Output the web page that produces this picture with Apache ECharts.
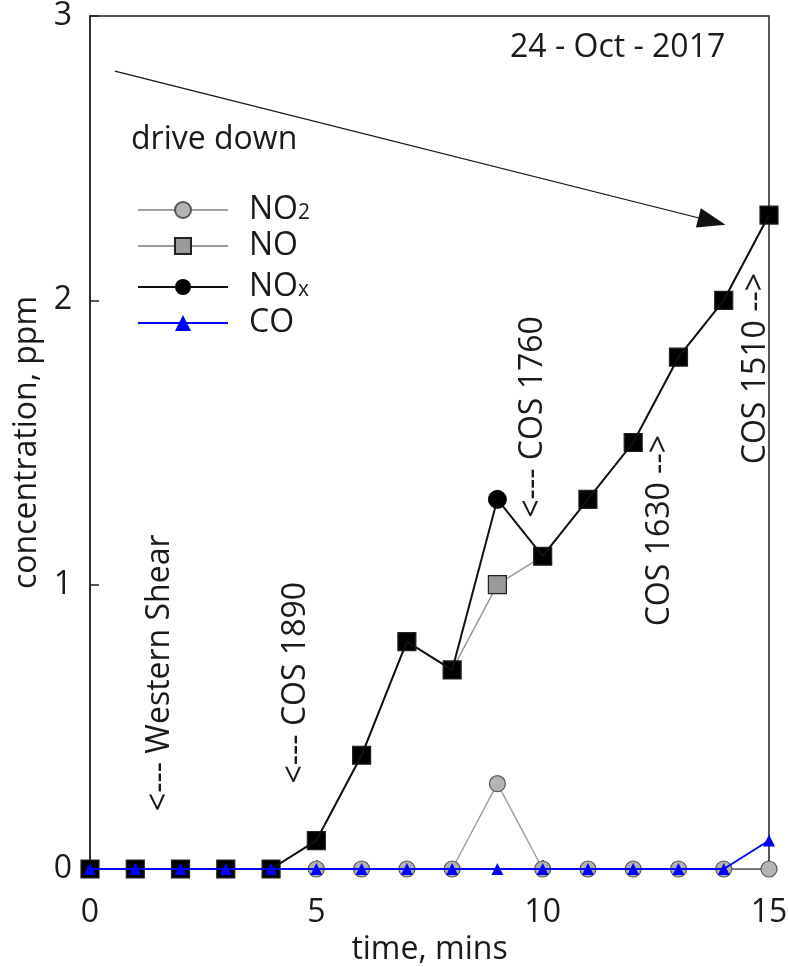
<!DOCTYPE html>
<html>
<head>
<meta charset="utf-8">
<script src="https://cdn.jsdelivr.net/npm/echarts@6/dist/echarts.min.js"></script>
<style>html,body{margin:0;padding:0;background:#fff}#c{width:788px;height:967px}</style>
</head>
<body>
<div id="c"></div>
<script>
// ---- data ----
const time = [0,1,2,3,4,5,6,7,8,9,10,11,12,13,14,15];
const NO2  = [0,0,0,0,0,0,0,0,0,0.3,0,0,0,0,0,0];
const NO   = [0,0,0,0,0,0.1,0.4,0.8,0.7,1.0,1.1,1.3,1.5,1.8,2.0,2.3];
const NOx  = [0,0,0,0,0,0.1,0.4,0.8,0.7,1.3,1.1,1.3,1.5,1.8,2.0,2.3];
const CO   = [0,0,0,0,0,0,0,0,0,0,0,0,0,0,0,0.1];
const xTicks = [0,5,10,15];
const yTicks = [0,1,2,3];
const annotations = [
  {text:'<--- Western Shear', x:1.55, y:0.69},
  {text:'<--- COS 1890', x:4.55, y:0.655},
  {text:'<--- COS 1760', x:9.79, y:1.59},
  {text:'COS 1630 -->', x:12.59, y:1.19},
  {text:'COS 1510 -->', x:14.72, y:1.76}
];
const arrowStart = [0.55, 2.806];
const arrowEnd = [13.74, 2.278];

const FONT = "'Open Sans', 'Noto Sans', sans-serif";
const TXT = '#1a1a1a';
const FS = 32;
const pairs = a => time.map((t,i)=>[t,a[i]]);
const noData = time.map((t,i)=>({value:[t,NO[i]], itemStyle:{color: NO[i]===NOx[i] ? '#000' : '#9a9a9a'}}));
const noxData = time.map((t,i)=>({value:[t,NOx[i]], symbol: NO[i]===NOx[i] ? 'none' : 'circle'}));

const chart = echarts.init(document.getElementById('c'), null, {renderer:'canvas'});
const option = {
  animation:false,
  backgroundColor:'#fff',
  textStyle:{fontFamily:FONT},
  grid:{left:90, right:19, top:16, bottom:98, containLabel:false, outerBoundsMode:'none',
        show:true, borderColor:'#222', borderWidth:1.5, backgroundColor:'transparent'},
  xAxis:{
    type:'value', min:0, max:15, interval:5,
    name:'time, mins', nameLocation:'middle', nameGap:74,
    nameTextStyle:{fontSize:FS, color:TXT, fontFamily:FONT, verticalAlign:'middle'},
    axisLine:{show:true, lineStyle:{color:'#222', width:1.5}},
    axisTick:{show:true, inside:true, length:9, lineStyle:{color:'#222', width:1.5}},
    axisLabel:{fontSize:FS, color:TXT, margin:28, fontFamily:FONT},
    splitLine:{show:false}
  },
  yAxis:{
    type:'value', min:0, max:3, interval:1,
    name:'concentration, ppm', nameLocation:'middle', nameGap:62,
    nameTextStyle:{fontSize:FS, color:TXT, fontFamily:FONT, verticalAlign:'middle'},
    axisLine:{show:true, lineStyle:{color:'#222', width:1.5}},
    axisTick:{show:true, inside:true, length:9, lineStyle:{color:'#222', width:1.5}},
    axisLabel:{fontSize:FS, color:TXT, margin:18, fontFamily:FONT},
    splitLine:{show:false}
  },
  legend:{
    orient:'vertical', left:132, top:184, itemWidth:90, itemHeight:20, itemGap:4,
    data:['NO2','NO','NOx','CO'],
    formatter: n => n==='NO2' ? '{a|NO}{s|2}' : n==='NOx' ? '{a|NO}{s|x}' : '{a|'+n+'}',
    textStyle:{
      color:TXT, fontSize:FS, fontFamily:FONT, padding:[0,0,0,16], lineHeight:28,
      rich:{a:{fontSize:FS, color:TXT, fontFamily:FONT, lineHeight:28},
            s:{fontSize:21, color:TXT, fontFamily:FONT, lineHeight:28, verticalAlign:'bottom', padding:[14,0,0,0]}}
    }
  },
  series:[
    {name:'NO2', type:'line', data:pairs(NO2), z:2, symbol:'circle', symbolSize:16,
     lineStyle:{color:'#a0a0a0', width:1.5}, itemStyle:{color:'#b4b4b4', borderColor:'#555', borderWidth:1.2}},
    {name:'NO', type:'line', data:noData, z:3, symbol:'rect', symbolSize:18,
     lineStyle:{color:'#9a9a9a', width:1.5}, itemStyle:{color:'#9a9a9a', borderColor:'#222', borderWidth:1.2}},
    {name:'NOx', type:'line', data:noxData, z:4, symbol:'circle', symbolSize:18,
     lineStyle:{color:'#111', width:2}, itemStyle:{color:'#000', borderColor:'#000'},
     markLine:{silent:true, symbol:['none','triangle'], symbolSize:[20,28], label:{show:false},
       lineStyle:{color:'#111', width:1.2, type:'solid'},
       data:[[{coord:arrowStart},{coord:arrowEnd}]]}},
    {name:'CO', type:'line', data:pairs(CO), z:5, symbol:'triangle', symbolSize:12,
     lineStyle:{color:'#0000ff', width:1.8}, itemStyle:{color:'#0000ff'}}
  ]
};
chart.setOption(option);

const g = [];
annotations.forEach(a=>{
  const p = chart.convertToPixel({gridIndex:0}, [a.x, a.y]);
  g.push({type:'text', x:p[0], y:p[1], rotation:Math.PI/2, z:10,
    style:{text:a.text, fill:TXT, font:FS+"px "+FONT, align:'center', verticalAlign:'middle'}});
});
g.push({type:'text', x:510, y:48, z:10, style:{text:'24 - Oct - 2017', fill:TXT, font:FS+"px "+FONT, verticalAlign:'middle'}});
g.push({type:'text', x:131, y:140, z:10, style:{text:'drive down', fill:TXT, font:FS+"px "+FONT, verticalAlign:'middle'}});
chart.setOption({graphic:g});
</script>
</body>
</html>
